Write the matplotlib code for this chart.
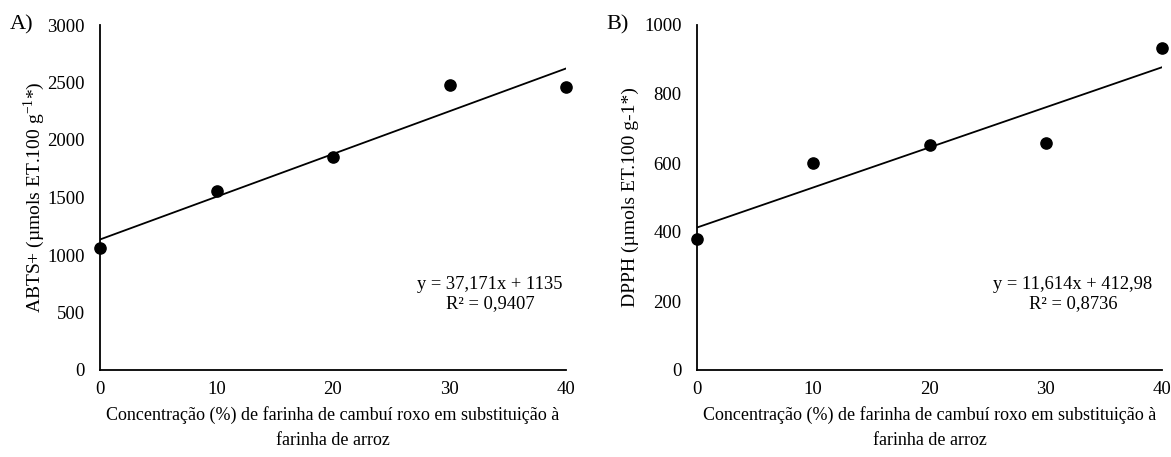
import numpy as np
import matplotlib
matplotlib.use("Agg")
import matplotlib.pyplot as plt

plt.rcParams['font.family'] = ['Liberation Serif', 'DejaVu Serif']
plt.rcParams['mathtext.fontset'] = 'custom'
plt.rcParams['mathtext.rm'] = 'Liberation Serif'
plt.rcParams['font.size'] = 13

# Data
conc = [0, 10, 20, 30, 40]
abts = [1060, 1555, 1848, 2475, 2458]
dpph = [380, 600, 652, 658, 932]

# trend lines as printed on the chart
abts_fit = (37.171, 1135)
dpph_fit = (11.614, 412.98)
abts_eq = ["y = 37,171x + 1135", "R² = 0,9407"]
dpph_eq = ["y = 11,614x + 412,98", "R² = 0,8736"]

xlabel = "Concentração (%) de farinha de cambuí roxo em substituição à\nfarinha de arroz"

fig = plt.figure(figsize=(11.71, 4.57), dpi=100)
W, H = 1171, 457

def panel(left, right, yvals, fit, eq, ylab, ymax, ystep, tag, tagx, eqx, ylpad):
    ax = fig.add_axes([left / W, 1 - 370 / H, (right - left) / W, (370 - 25) / H])
    ax.scatter(conc, yvals, s=65, color='black', zorder=3, clip_on=False)
    xs = np.array([conc[0], conc[-1]])
    ax.plot(xs, fit[0] * xs + fit[1], color='black', lw=1.3)
    ax.set_xlim(0, 40)
    ax.set_ylim(0, ymax)
    ax.set_xticks(conc)
    ax.set_yticks(np.arange(0, ymax + 1, ystep))
    for s in ['top', 'right']:
        ax.spines[s].set_visible(False)
    for s in ['left', 'bottom']:
        ax.spines[s].set_linewidth(1.3)
    ax.tick_params(axis='y', length=0, pad=11, labelsize=13.5)
    ax.tick_params(axis='x', length=0, pad=8, labelsize=13.5)
    ax.set_xlabel(xlabel, fontsize=13, linespacing=1.6, labelpad=6)
    ax.set_ylabel(ylab, fontsize=14, labelpad=ylpad)
    fig.text(tagx / W, 1 - 25 / H, tag, fontsize=16, va='center')
    fig.text(eqx / W, 1 - 294 / H, "\n".join(eq), fontsize=13.3,
             ha='center', va='center', linespacing=1.2)
    return ax

panel(100, 566, abts, abts_fit, abts_eq,
      r'ABTS+ (µmols ET.100 g$^{\mathregular{-1}}$*)', 3000, 500, 'A)', 10, 490, 0)
panel(697, 1162, dpph, dpph_fit, dpph_eq,
      'DPPH (µmols ET.100 g-1*)', 1000, 200, 'B)', 606, 1073, 4)

fig.savefig('out.png', dpi=100)
